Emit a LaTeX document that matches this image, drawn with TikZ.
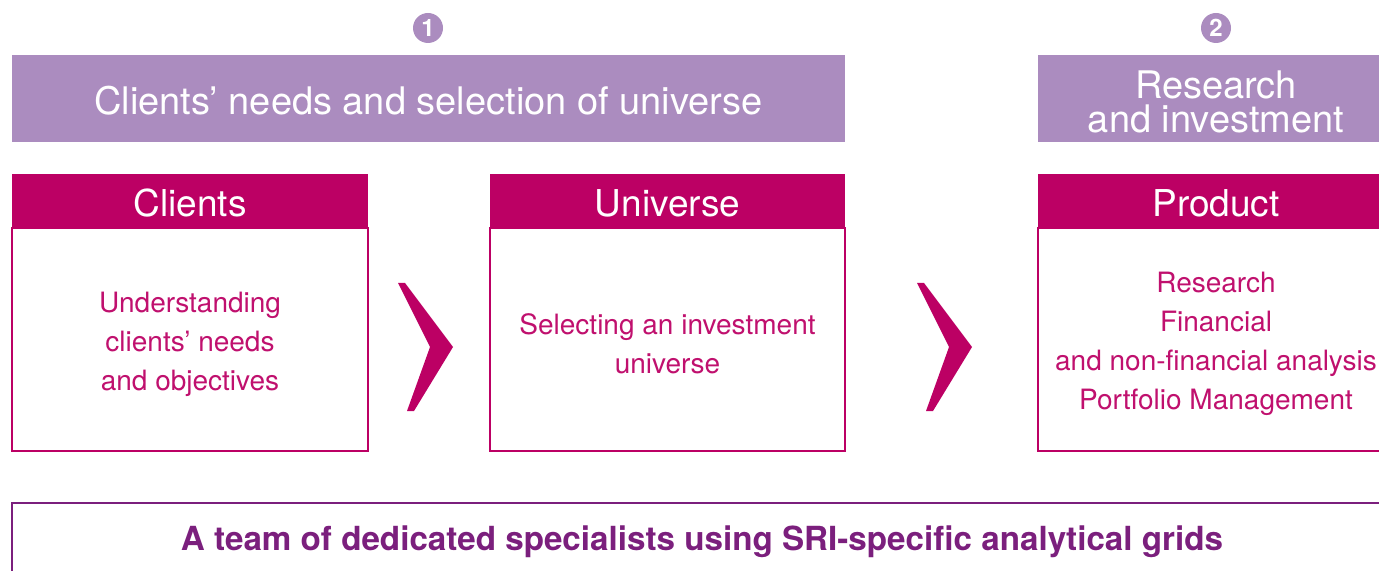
\documentclass[tikz,border=0pt]{standalone}
\usepackage{fontspec}
\setmainfont{TeX Gyre Heros}
\definecolor{lavender}{HTML}{AB8CBF}
\definecolor{magenta}{HTML}{BC0064}
\definecolor{bodytext}{HTML}{C0106E}
\definecolor{deeppurple}{HTML}{7B1F7D}
\tikzset{
  bannertext/.style={text=white, align=center, font=\fontsize{19}{17}\selectfont},
  headertext/.style={text=white, font=\fontsize{18.5}{22}\selectfont},
  bodytextnode/.style={text=bodytext, align=center, font=\fontsize{14}{19.5}\selectfont},
  stepnum/.style={circle, fill=lavender, text=white, inner sep=0pt,
                  minimum size=15pt, font=\bfseries\fontsize{12}{12}\selectfont},
  frame/.style={draw=magenta, line width=0.6pt, fill=white},
  chevron/.style={fill=magenta, draw=none}
}
\begin{document}
\begin{tikzpicture}[x=0.5pt, y=-0.5pt]
  \useasboundingbox (0,0) rectangle (1379,571);

  % step numbers
  \node[stepnum] (n1) at (428,28) {1};
  \node[stepnum] (n2) at (1216,28) {2};

  % phase banners
  \fill[lavender] (12,55) rectangle (845,142);
  \node[bannertext] (b1) at (428.5,101) {Clients’ needs and selection of universe};
  \fill[lavender] (1038,55) rectangle (1379,142);
  \node[bannertext] (b2) at (1216,102) {Research\\and investment};

  % column boxes: body frame and header band
  \draw[frame] (12,228) rectangle (368,451);
  \fill[magenta] (12,174) rectangle (368,228);
  \draw[frame] (490,228) rectangle (845,451);
  \fill[magenta] (490,174) rectangle (845,228);
  \draw[frame] (1390,228) -- (1038,228) -- (1038,451) -- (1390,451);
  \fill[magenta] (1038,174) rectangle (1390,228);

  \node[headertext] (h1) at (190,203) {Clients};
  \node[headertext] (h2) at (667.5,203) {Universe};
  \node[headertext] (h3) at (1216,203) {Product};

  \node[bodytextnode] (t1) at (190,344)
    {Understanding\\clients’ needs\\and objectives};
  \node[bodytextnode] (t2) at (667.5,344)
    {Selecting an investment\\universe};
  \node[bodytextnode] (t3) at (1216,344)
    {Research\\Financial\\and non-financial analysis\\Portfolio Management};

  % chevrons between the columns
  \fill[chevron] (398,283) -- (405,283) -- (453,347) -- (414,411) -- (407,411) -- (430,347) -- cycle;
  \fill[chevron] (917,283) -- (924,283) -- (972,347) -- (933,411) -- (926,411) -- (949,347) -- cycle;

  % bottom strip
  \draw[deeppurple, line width=0.7pt] (12,600) -- (12,503) -- (1390,503);
  \node[text=deeppurple, font=\bfseries\fontsize{16.6}{20}\selectfont] (team) at (702,542)
    {A team of dedicated specialists using SRI-specific analytical grids};
\end{tikzpicture}
\end{document}
